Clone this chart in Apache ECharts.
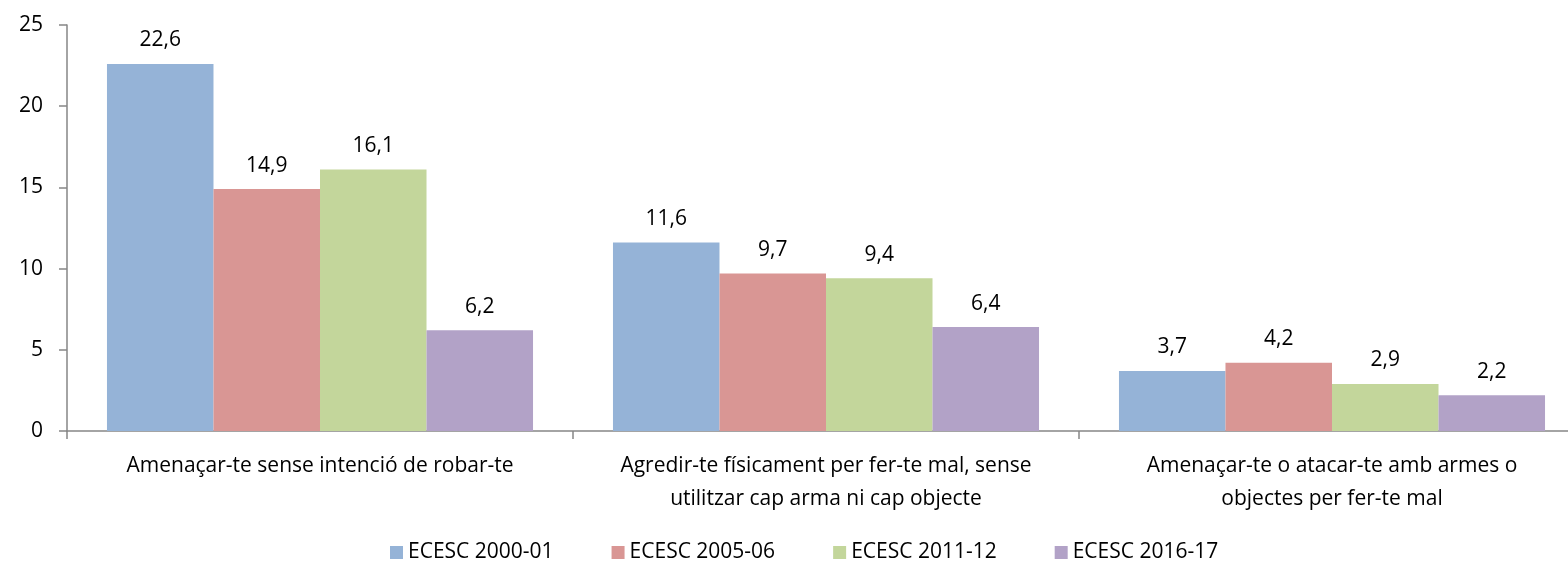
<!DOCTYPE html>
<html>
<head>
<meta charset="utf-8">
<script src="https://cdn.jsdelivr.net/npm/echarts@6/dist/echarts.min.js"></script>
<style>
  html, body { margin: 0; padding: 0; background: #fff; overflow: hidden; }
  #main { width: 1568px; height: 564px; }
</style>
</head>
<body>
<div id="main"></div>
<script>
var categories = [
    "Amenaçar-te sense intenció de robar-te",
    "Agredir-te físicament per fer-te mal, sense\nutilitzar cap arma ni cap objecte",
    "Amenaçar-te o atacar-te amb armes o\nobjectes per fer-te mal"
];
var seriesNames = ["ECESC 2000-01", "ECESC 2005-06", "ECESC 2011-12", "ECESC 2016-17"];
var v2000 = [22.6, 11.6, 3.7];
var v2005 = [14.9, 9.7, 4.2];
var v2011 = [16.1, 9.4, 2.9];
var v2016 = [6.2, 6.4, 2.2];
var colors = ["#95B3D7", "#D99694", "#C3D69B", "#B2A2C7"];

var font = "'Open Sans', sans-serif";
var chart = echarts.init(document.getElementById('main'));

function makeSeries(i, values) {
    return {
        name: seriesNames[i],
        type: 'bar',
        data: values,
        barGap: '0%',
        barCategoryGap: '15.8%',
        itemStyle: { color: colors[i] },
        label: {
            show: true,
            position: 'top',
            distance: 13,
            color: '#000',
            fontFamily: font,
            fontSize: 21,
            formatter: function (p) { return p.value.toFixed(1).replace('.', ','); }
        }
    };
}

chart.setOption({
    animation: false,
    textStyle: { fontFamily: font },
    grid: { left: 67, width: 1518, top: 25, height: 406, outerBoundsMode: 'none' },
    legend: {
        data: seriesNames,
        top: 537,
        left: 385,
        icon: 'rect',
        itemWidth: 13,
        itemHeight: 13,
        itemGap: 58,
        textStyle: { fontFamily: font, fontSize: 21, color: '#000' }
    },
    xAxis: {
        type: 'category',
        data: categories,
        axisLine: { lineStyle: { color: '#868686', width: 1.5 } },
        axisTick: { show: true, length: 8, lineStyle: { color: '#868686', width: 1.5 } },
        axisLabel: {
            color: '#000',
            fontFamily: font,
            fontSize: 21,
            lineHeight: 33,
            margin: 19,
            interval: 0
        }
    },
    yAxis: {
        type: 'value',
        min: 0,
        max: 25,
        interval: 5,
        splitLine: { show: false },
        axisLine: { show: true, lineStyle: { color: '#868686', width: 1.5 } },
        axisTick: { show: true, length: 8, lineStyle: { color: '#868686', width: 1.5 } },
        axisLabel: { color: '#000', fontFamily: font, fontSize: 21, margin: 24 }
    },
    series: [
        makeSeries(0, v2000),
        makeSeries(1, v2005),
        makeSeries(2, v2011),
        makeSeries(3, v2016)
    ]
});
</script>
</body>
</html>
